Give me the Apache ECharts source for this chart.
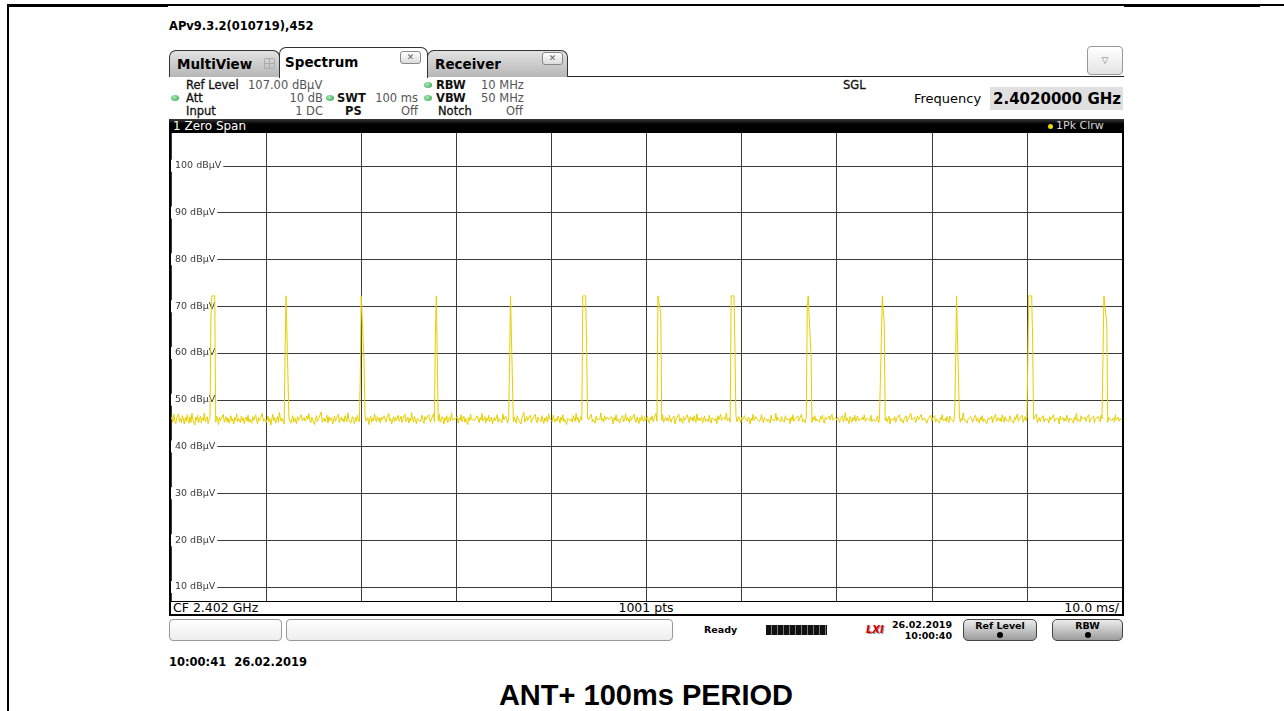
<!DOCTYPE html>
<html>
<head>
<meta charset="utf-8">
<title>ANT+ 100ms PERIOD</title>
<script src="https://cdn.jsdelivr.net/npm/echarts@6/dist/echarts.min.js"></script>
<style>
  html, body { margin: 0; padding: 0; background: #fff; }
  #page { position: relative; width: 1284px; height: 711px; overflow: hidden; font-family: "DejaVu Sans", sans-serif; color: #000; }
  .a { position: absolute; white-space: nowrap; }
  .t { position: absolute; white-space: nowrap; height: 13px; line-height: 13px; font-size: 11.5px; }
  .lb { color: #111; -webkit-text-stroke: 0.3px #111; }
  .vl { color: #555; }
  .dot { position: absolute; width: 8px; height: 6px; border-radius: 50%; background: radial-gradient(circle at 40% 35%, #a8ecb4, #2f9e4a); }
  .tab { position: absolute; box-sizing: border-box; border: 1px solid #333; border-bottom: none; border-radius: 7px 7px 0 0; }
  .tabtxt { position: absolute; top: 6px; font-size: 13.5px; font-weight: bold; line-height: 16px; }
  .close { position: absolute; width: 21px; height: 13px; box-sizing: border-box; border: 1px solid #888; border-radius: 3px; background: linear-gradient(#fff, #dcdcdc); font-size: 9px; line-height: 11px; text-align: center; color: #666; }
  .btn { position: absolute; top: 619px; height: 22px; box-sizing: border-box; border: 1px solid #444; border-radius: 5px; background: linear-gradient(#ececec, #9c9c9c); text-align: center; font-size: 9.5px; font-weight: bold; line-height: 12px; }
  .btn i { position: absolute; left: 50%; top: 12px; width: 6px; height: 6px; margin-left: -3px; border-radius: 50%; background: #000; }
  .box { position: absolute; top: 619px; height: 22px; box-sizing: border-box; border: 1px solid #999; border-radius: 4px; background: linear-gradient(#fff, #eee); }
</style>
</head>
<body>
<div id="page">
  <!-- page frame lines -->
  <div class="a" style="left:8px;top:4px;width:1276px;height:2px;background:#000"></div>
  <div class="a" style="left:8px;top:4px;width:160px;height:3px;background:#000"></div>
  <div class="a" style="left:1124px;top:4px;width:136px;height:3px;background:#000"></div>
  <div class="a" style="left:7px;top:4px;width:2px;height:707px;background:#000"></div>

  <div class="a" style="left:169px;top:19px;font-size:11.5px;font-weight:bold;line-height:14px">APv9.3.2(010719),452</div>

  <!-- tabs -->
  <div class="a" style="left:169px;top:76px;width:955px;height:1px;background:#222"></div>
  <div class="tab" style="left:169px;top:50px;width:111px;height:27px;background:linear-gradient(#e2e2e2,#b6b6b6)">
    <div class="tabtxt" style="left:7px;top:5px">MultiView</div>
    <div class="a" style="left:94px;top:7px;width:9px;height:9px;border:1px solid #aaa;border-radius:2px;background:linear-gradient(90deg,transparent 4px,#aaa 4px,#aaa 5px,transparent 5px),linear-gradient(transparent 4px,#aaa 4px,#aaa 5px,transparent 5px)"></div>
  </div>
  <div class="tab" style="left:279px;top:47px;width:149px;height:31px;background:#fff;z-index:2">
    <div class="tabtxt" style="left:5px;top:6px">Spectrum</div>
    <div class="close" style="left:120px;top:3px">✕</div>
  </div>
  <div class="tab" style="left:427px;top:50px;width:141px;height:27px;background:linear-gradient(#e2e2e2,#b6b6b6)">
    <div class="tabtxt" style="left:7px;top:5px">Receiver</div>
    <div class="close" style="left:114px;top:1px">✕</div>
  </div>
  <div class="a" style="left:1087px;top:46px;width:36px;height:29px;box-sizing:border-box;border:1px solid #999;border-radius:4px;background:linear-gradient(#fff,#e4e4e4);font-size:9px;color:#777;text-align:center;line-height:27px">▽</div>

  <!-- settings block -->
  <div class="t lb" style="left:186px;top:78.5px">Ref Level</div>
  <div class="t vl" style="left:248px;top:78.5px">107.00 dBµV</div>
  <div class="dot" style="left:171px;top:95px"></div>
  <div class="t lb" style="left:186px;top:91.5px">Att</div>
  <div class="t vl" style="right:961px;top:91.5px">10 dB</div>
  <div class="t lb" style="left:186px;top:104.5px">Input</div>
  <div class="t vl" style="right:961px;top:104.5px">1 DC</div>

  <div class="dot" style="left:326px;top:95px"></div>
  <div class="t lb" style="left:337px;top:91.5px;font-weight:bold;-webkit-text-stroke:0">SWT</div>
  <div class="t vl" style="right:866px;top:91.5px">100 ms</div>
  <div class="t lb" style="left:345px;top:104.5px;font-weight:bold;-webkit-text-stroke:0">PS</div>
  <div class="t vl" style="right:866px;top:104.5px">Off</div>

  <div class="dot" style="left:424px;top:82px"></div>
  <div class="t lb" style="left:436px;top:78.5px;font-weight:bold;-webkit-text-stroke:0">RBW</div>
  <div class="t vl" style="left:481px;top:78.5px">10 MHz</div>
  <div class="dot" style="left:424px;top:95px"></div>
  <div class="t lb" style="left:436px;top:91.5px;font-weight:bold;-webkit-text-stroke:0">VBW</div>
  <div class="t vl" style="left:481px;top:91.5px">50 MHz</div>
  <div class="t lb" style="left:438px;top:104.5px">Notch</div>
  <div class="t vl" style="right:761px;top:104.5px">Off</div>

  <div class="t lb" style="left:843px;top:78.5px">SGL</div>
  <div class="a" style="left:914px;top:91px;font-size:13px;line-height:16px">Frequency</div>
  <div class="a" style="left:990px;top:87px;width:133px;height:23px;background:#e0e0e0"></div>
  <div class="a" style="left:993px;top:90px;font-size:15px;font-weight:bold;line-height:18px">2.4020000 GHz</div>

  <!-- diagram frame -->
  <div class="a" style="left:169px;top:119px;width:955px;height:497px;background:linear-gradient(#3a3a3a,#000 5px,#000)"></div>
  <div class="a" style="left:173px;top:119px;font-size:12px;line-height:14px;color:#fff">1 Zero Span</div>
  <div class="a" style="left:1048px;top:124px;width:5px;height:5px;border-radius:50%;background:#f0d800"></div>
  <div class="a" style="left:1056px;top:119px;font-size:11px;line-height:14px;color:#d8d8d8">1Pk Clrw</div>
  <div class="a" style="left:171px;top:602px;width:951px;height:12px;background:#fff"></div>
  <div class="a" style="left:173px;top:600px;font-size:12.5px;line-height:15px">CF 2.402 GHz</div>
  <div class="a" style="left:646px;top:600px;font-size:12.5px;line-height:15px;transform:translateX(-50%)">1001 pts</div>
  <div class="a" style="right:165px;top:600px;font-size:12.5px;line-height:15px">10.0 ms/</div>

  <div id="chart" class="a" style="left:171px;top:133px;width:951px;height:468px"></div>

  <!-- status bar -->
  <div class="box" style="left:169px;width:113px"></div>
  <div class="box" style="left:286px;width:387px"></div>
  <div class="a" style="left:704px;top:624px;font-size:9.5px;font-weight:bold;line-height:12px">Ready</div>
  <div class="a" style="left:766px;top:625px;width:61px;height:10px;background:repeating-linear-gradient(90deg,#111 0,#111 5px,#777 5px,#777 6px)"></div>
  <div class="a" style="left:866px;top:624px;font-size:10px;font-weight:bold;font-style:italic;line-height:12px;color:#d40000;text-shadow:1px 1px 0 #999">LXI</div>
  <div class="a" style="right:332px;top:619px;font-size:9.5px;font-weight:bold;line-height:12px">26.02.2019</div>
  <div class="a" style="right:332px;top:630px;font-size:9.5px;font-weight:bold;line-height:12px">10:00:40</div>
  <div class="btn" style="left:963px;width:74px">Ref Level<i></i></div>
  <div class="btn" style="left:1052px;width:71px">RBW<i></i></div>

  <div class="a" style="left:169px;top:655px;font-size:11.5px;font-weight:bold;line-height:14px;white-space:pre">10:00:41  26.02.2019</div>
  <div class="a" style="left:646px;top:678px;transform:translateX(-50%);font-family:'Liberation Sans',Arial,sans-serif;font-size:29px;font-weight:bold;line-height:34px">ANT+ 100ms PERIOD</div>
</div>

<script>
// sweep: 100 ms, 1001 points (0.1 ms per point)
const sweepMs = 100;
const yTicks = [10, 20, 30, 40, 50, 60, 70, 80, 90, 100];

// noise floor readings, dBµV
const noise = [
  45.8,46.3,45.2,46.9,45.5,44.9,46.1,45.7,47.0,45.3,46.0,45.1,46.6,45.9,44.8,46.2,45.4,46.8,45.6,45.0,
  46.4,45.2,47.1,45.7,45.9,44.6,46.3,45.5,46.7,45.1,45.8,46.5,45.0,46.1,45.6,47.2,45.3,45.9,46.4,44.9,
  45.7,46.2,45.4,46.0,45.1,46.8,45.6,45.2,46.5,45.9,44.7,46.3,45.5,46.0,45.8,46.9,45.2,45.7,46.4,45.3,
  46.1,45.0,45.8,46.6,45.4,45.9,44.8,46.2,45.6,47.0,45.3,46.0,45.7,45.1,46.5,45.5,46.2,44.9,45.8,46.3,
  45.4,46.7,45.2,45.9,46.1,45.0,46.4,45.6,45.3,46.8,45.7,44.9,46.2,45.5,46.0,45.8,47.1,45.4,45.9,46.3,
  45.1,45.7,46.5,45.3,46.0,44.6,45.8,46.9,45.5,46.2,45.0,45.6,46.4,45.2,47.3,45.9,45.4,46.1,45.7,44.8,
  46.0,45.5,46.7,45.3,45.9,46.3,45.0,45.8,46.6,45.2,46.1,45.7,44.9,46.4,45.6,46.0,45.3,46.8,45.5,45.9,
  46.2,45.4,45.0,46.5,45.8,47.0,45.6,45.1,46.3,45.7,46.0,44.7,45.9,46.6,45.3,45.8,46.2,45.5,47.4,45.2,
  45.6,46.1,45.3,45.9,46.7,45.0,46.4,45.5,45.8,46.2,44.8,45.7,46.5,45.4,46.0,45.6,46.9,45.1,45.8,46.3,
  45.5,46.0,45.2,46.6,45.9,45.3,47.2,45.7,46.1,45.0,45.8,46.4,45.6,44.9,46.2,45.4,46.7,45.8,45.3,46.1,
  45.9,45.1,46.3,45.6,46.8,45.4,45.7,46.2,44.7,45.9,46.5,45.2,46.0,45.5,47.0,45.8,45.3,46.4,45.6,46.1,
  45.0,46.3,45.7,45.4,46.6,45.9,45.2,46.1,45.8,47.1,45.5,46.0,44.8,45.7,46.4,45.3,46.2,45.6,45.9,46.7,
  45.4,45.8,46.5,45.1,46.0,45.7,46.9,45.3,45.6,46.3,45.0,46.1,45.5,47.3,45.9,45.2,46.4,45.7,44.9,46.0,
  45.6,46.2,45.3,45.9,46.7,45.5,45.0,46.4,45.8,46.1,45.4,46.8,45.7,45.2,46.0,45.6,47.0,45.3,46.3,45.8,
  46.1,45.5,46.9,45.2,45.7,46.4,45.9,44.8,46.2,45.6,46.6,45.1,45.8,46.3,45.4,47.2,45.7,46.0,45.3,45.9,
  45.7,46.4,45.0,46.1,45.6,46.8,45.3,45.9,46.5,45.2,46.0,45.7,44.7,46.3,45.5,46.9,45.8,45.4,46.2,45.6,
  46.0,45.3,46.6,45.8,45.1,46.2,45.7,47.1,45.4,45.9,46.4,45.0,46.1,45.6,46.7,45.3,45.8,46.3,44.9,45.7,
  46.2,45.5,45.9,46.8,45.2,46.0,45.6,46.4,45.1,47.0,45.7,45.3,46.5,45.8,45.0,46.1,45.6,46.9,45.4,45.9,
  45.3,46.3,45.7,45.0,46.6,45.9,45.5,46.2,44.8,46.0,45.6,47.3,45.2,45.8,46.4,45.5,46.1,45.7,46.7,45.1,
  45.8,46.2,45.4,46.9,45.6,45.1,46.3,45.8,46.0,45.3,46.6,45.7,44.9,46.1,45.5,46.4,45.2,47.0,45.9,45.6,
  46.1,45.4,46.7,45.7,45.2,46.0,45.5,46.5,45.9,45.0,46.3,45.6,46.8,45.3,45.8,46.2,44.7,46.0,45.7,46.4,
  45.5,46.0,45.2,46.6,45.9,45.4,47.1,45.7,46.2,45.1,45.8,46.4,45.6,46.0,45.3,46.7,45.8,45.2,46.3,45.7,
  46.0,45.6,46.9,45.3,45.8,46.2,45.0,46.5,45.7,45.4,46.1,45.9,47.2,45.5,46.0,45.2,46.6,45.8,45.4,46.3,
  45.7,46.1,45.3,46.4,45.9,44.8,46.2,45.6,46.8,45.4,45.9,46.3,45.1,46.0,45.7,46.6,45.3,45.8,47.0,45.5,
  46.2,45.8,45.1,46.5,45.6,46.0,45.4,46.9,45.7,45.2,46.3,45.9,44.9,46.1,45.5,46.7,45.8,45.3,46.4,45.6,
  45.9,46.4,45.5,45.0,46.2,45.7,46.6,45.3,46.0,45.8,47.1,45.4,45.9,46.3,45.1,46.0,45.6,46.8,45.2,45.7,
  46.3,45.6,46.1,45.4,46.7,45.9,45.2,46.0,45.7,46.5,44.8,45.8,46.2,45.5,46.9,45.3,46.1,45.7,45.0,46.4,
  45.6,46.0,45.3,46.8,45.8,45.1,46.4,45.7,46.2,45.4,46.6,45.9,45.2,47.0,45.6,46.1,45.5,45.9,46.3,45.0,
  45.8,46.5,45.4,45.9,46.1,45.3,46.7,45.6,45.0,46.2,45.8,46.4,45.5,46.0,44.9,46.6,45.7,45.3,46.9,45.6,
  46.0,45.4,46.3,45.8,47.2,45.5,45.9,46.1,45.2,46.5,45.7,45.0,46.2,45.6,46.8,45.3,45.9,46.4,45.7,45.1,
  46.2,45.7,45.3,46.6,45.9,46.0,45.4,46.3,45.8,44.8,46.1,45.5,46.9,45.6,45.2,46.4,45.9,45.7,46.0,45.3,
  45.5,46.8,45.6,45.1,46.2,45.8,46.5,45.4,45.9,46.1,45.0,46.7,45.7,45.3,46.0,45.6,47.1,45.5,46.3,45.8,
  45.9,45.3,46.4,45.7,46.0,45.2,46.6,45.8,45.5,46.2,45.9,44.9,46.3,45.6,46.8,45.4,45.9,46.1,45.7,46.5,
  45.4,46.0,45.7,46.9,45.3,45.8,46.2,45.1,46.4,45.6,46.0,45.5,47.0,45.8,45.2,46.3,45.7,46.6,45.4,45.9,
  46.1,45.6,45.2,46.4,45.9,46.7,45.5,45.0,46.3,45.8,46.1,45.4,46.5,45.7,45.3,46.9,45.6,46.0,45.2,46.2,
  45.7,46.3,45.8,45.1,46.0,45.6,46.6,45.3,45.9,47.2,45.5,46.1,45.7,44.9,46.4,45.8,45.2,46.2,45.6,46.7,
  45.3,45.9,46.5,45.6,46.0,45.2,45.8,46.3,45.7,46.8,45.4,45.0,46.1,45.9,46.4,45.5,46.7,45.3,45.8,46.0,
  46.2,45.4,45.9,46.6,45.1,46.0,45.7,46.3,45.5,45.8,47.0,45.6,46.2,45.3,45.9,46.5,44.8,46.0,45.7,46.1,
  45.6,46.4,45.2,45.9,46.1,45.7,46.8,45.4,45.9,46.3,45.0,46.0,45.6,46.6,45.3,45.8,46.2,45.5,47.1,45.7,
  46.0,45.5,46.3,45.1,45.8,46.5,45.7,46.0,45.3,46.9,45.6,45.2,46.1,45.8,46.4,45.0,45.9,46.2,45.6,46.7,
  45.4,46.1,45.8,46.6,45.2,45.9,46.3,45.6,45.0,46.2,45.7,46.8,45.5,45.9,46.0,45.3,46.4,45.8,45.1,46.5,
  45.9,45.6,46.2,45.3,46.9,45.7,45.4,46.0,45.8,46.5,45.2,46.1,45.6,47.2,45.9,45.5,46.3,45.0,45.8,46.1,
  45.5,46.4,45.9,45.2,46.0,45.7,46.7,45.4,46.1,45.8,45.0,46.3,45.6,46.6,45.3,45.9,46.2,45.7,44.9,46.0,
  46.3,45.6,45.9,46.5,45.1,46.0,45.8,46.9,45.4,45.7,46.2,45.5,46.0,45.3,46.8,45.9,45.2,46.4,45.7,46.1,
  45.8,45.3,46.6,45.9,45.5,46.1,45.0,46.3,45.7,46.0,47.0,45.4,45.9,46.2,45.6,46.7,45.2,45.8,46.4,45.5,
  46.1,45.7,45.4,46.3,45.9,45.2,46.5,45.8,46.0,45.6,46.9,45.1,45.7,46.2,45.4,46.0,45.8,46.6,45.3,45.9,
  45.6,46.2,45.8,45.0,46.4,45.7,46.1,45.5,46.8,45.3,45.9,46.3,45.6,46.0,44.8,46.5,45.7,45.9,46.2,45.4,
  46.0,45.5,46.7,45.8,45.2,46.1,45.9,46.4,45.6,45.0,46.3,45.7,47.1,45.4,45.9,46.0,45.3,46.6,45.8,45.6,
  45.9,46.3,45.4,46.0,45.7,46.8,45.2,45.8,46.2,45.6,46.5,45.1,45.9,46.1,45.5,46.4,45.8,45.3,46.7,45.9,
  45.7,46.0,45.4,46.5,45.9,45.2,46.2,45.8,46.6,45.5,45.9,46.1,45.3,46.8,45.7,45.6,46.3,45.4,45.9,46.1,
  45.8
];

// burst samples [time ms, dBµV]
const bursts = [
  [4.2, 67.5], [4.3, 72.2], [4.4, 72.2], [4.5, 72.2], [4.6, 72.2],
  [12.0, 60.5], [12.1, 72.2], [12.2, 72.2], [12.3, 72.2],
  [19.9, 54.0], [20.0, 72.2], [20.1, 72.2], [20.2, 72.2], [20.3, 58.5],
  [27.8, 64.0], [27.9, 72.2], [28.0, 72.2],
  [35.6, 57.5], [35.7, 72.2], [35.8, 72.2], [35.9, 72.2],
  [43.3, 72.2], [43.4, 72.2], [43.5, 72.2], [43.6, 72.2], [43.7, 62.3],
  [51.2, 72.2], [51.3, 72.2], [51.4, 72.2], [51.5, 68.5],
  [58.9, 72.2], [59.0, 72.2], [59.1, 72.2], [59.2, 72.2], [59.3, 61.0],
  [66.9, 69.0], [67.0, 72.2], [67.1, 72.2], [67.2, 72.2], [67.3, 59.6],
  [74.7, 63.4], [74.8, 72.2], [74.9, 72.2], [75.0, 66.0],
  [82.5, 57.2], [82.6, 72.2], [82.7, 72.2], [82.8, 72.2],
  [90.2, 72.2], [90.3, 72.2], [90.4, 72.2], [90.5, 72.2], [90.6, 63.2],
  [98.1, 72.2], [98.2, 72.2], [98.3, 72.2], [98.4, 66.4]
];

const step = sweepMs / (noise.length - 1);
const trace = noise.map((v, i) => [+(i * step).toFixed(2), v]);
bursts.forEach(([t, v]) => {
  const i = Math.round(t / step);
  if (trace[i]) trace[i][1] = v;
});

const myChart = echarts.init(document.getElementById('chart'));
const option = {
  animation: false,
  backgroundColor: '#fff',
  grid: { left: 0, right: 0, top: 0, bottom: 0, containLabel: false, outerBoundsMode: 'none' },
  xAxis: {
    type: 'value',
    min: 0,
    max: sweepMs,
    interval: 10,
    axisLine: { show: false },
    axisTick: { show: false },
    axisLabel: { show: false },
    splitLine: { show: true, lineStyle: { color: '#3c3c3c', width: 1 } }
  },
  yAxis: {
    type: 'value',
    min: 7,
    max: 107,
    axisLine: { show: false },
    axisTick: { show: false, customValues: yTicks },
    axisLabel: {
      inside: true,
      customValues: yTicks,
      margin: 0,
      formatter: v => v + ' dBµV',
      color: '#3a3a3a',
      fontSize: 9.5,
      fontFamily: 'DejaVu Sans',
      backgroundColor: '#fff',
      padding: [1, 2, 1, 4]
    },
    splitLine: { show: true, lineStyle: { color: '#3c3c3c', width: 1 } }
  },
  series: [{
    type: 'line',
    data: trace,
    symbol: 'none',
    showSymbol: false,
    lineStyle: { color: '#e6cf00', width: 1 },
    silent: true
  }]
};
myChart.setOption(option);
</script>
</body>
</html>
